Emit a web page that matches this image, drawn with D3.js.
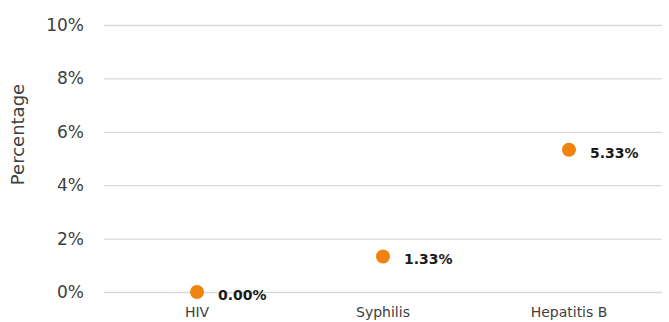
<!DOCTYPE html>
<html>
<head>
<meta charset="utf-8">
<script src="https://cdn.jsdelivr.net/npm/d3@7"></script>
<style>
  html, body { margin: 0; padding: 0; background: #fff; }
  svg { display: block; }
  text { font-family: "DejaVu Sans", sans-serif; }
</style>
</head>
<body>
<svg id="chart" width="669" height="322"></svg>
<script>
// Prevalence by infection
const categories = ["HIV", "Syphilis", "Hepatitis B"];
const values = [0.00, 1.33, 5.33];
const yTicks = [0, 2, 4, 6, 8, 10];

const width = 669, height = 322;
const margin = { top: 25, right: 7, bottom: 30, left: 104 };

const svg = d3.select("#chart");

const x = d3.scaleBand()
  .domain(categories)
  .range([margin.left, width - margin.right])
  .padding(0);

const y = d3.scaleLinear()
  .domain([0, 10])
  .range([height - margin.bottom, margin.top]);

// Horizontal gridlines and percent tick labels
const yAxis = d3.axisLeft(y)
  .tickValues(yTicks)
  .tickSize(-(width - margin.left - margin.right))
  .tickPadding(20)
  .tickFormat(d => d + "%");

svg.append("g")
  .attr("transform", `translate(${margin.left},0)`)
  .call(yAxis)
  .call(g => g.select(".domain").remove())
  .call(g => g.selectAll(".tick line").attr("stroke", "#d9d9d9").attr("stroke-width", 1.3))
  .call(g => g.selectAll(".tick text")
    .attr("fill", "#404040")
    .style("font-size", "17px"));

// Category labels
const xAxis = d3.axisBottom(x).tickSize(0).tickPadding(15);
svg.append("g")
  .attr("transform", `translate(0,${height - margin.bottom})`)
  .call(xAxis)
  .call(g => g.select(".domain").remove())
  .call(g => g.selectAll(".tick text")
    .attr("fill", "#404040")
    .style("font-size", "14px"));

// Axis title
svg.append("text")
  .attr("transform", `translate(24,${(margin.top + height - margin.bottom) / 2 - 24}) rotate(-90)`)
  .attr("text-anchor", "middle")
  .attr("fill", "#404040")
  .style("font-size", "18px")
  .text("Percentage");

const data = categories.map((c, i) => ({ c, v: values[i] }));

// Points
svg.append("g").selectAll("circle")
  .data(data)
  .join("circle")
  .attr("cx", d => x(d.c) + x.bandwidth() / 2)
  .attr("cy", d => y(d.v))
  .attr("r", 7)
  .attr("fill", "#F0820F");

// Value labels
svg.append("g").selectAll("text")
  .data(data)
  .join("text")
  .attr("x", d => x(d.c) + x.bandwidth() / 2 + 21)
  .attr("y", d => y(d.v) + 8)
  .attr("fill", "#1a1a1a")
  .style("font-size", "14px")
  .style("font-weight", "bold")
  .text(d => d.v.toFixed(2) + "%");
</script>
</body>
</html>
